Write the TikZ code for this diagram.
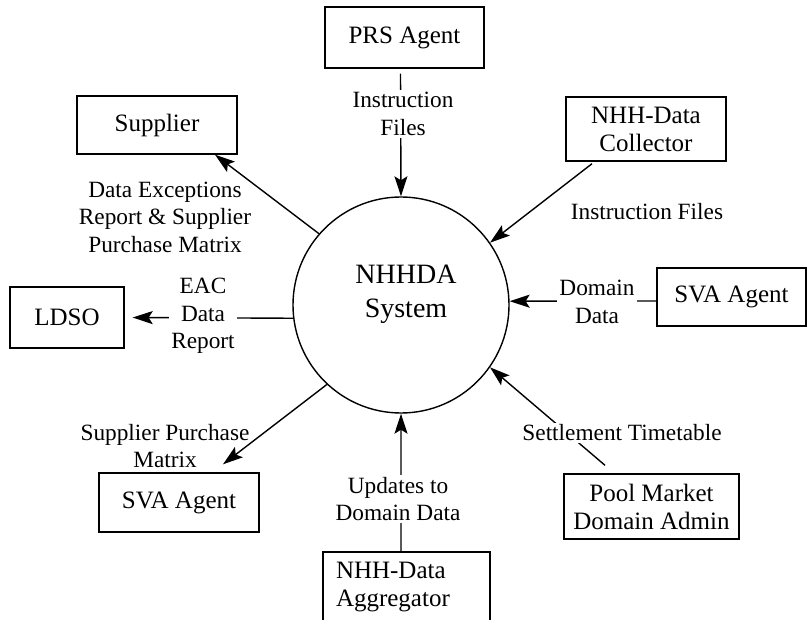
\documentclass[tikz,border=0pt]{standalone}
\usepackage{fontspec}
\setmainfont{Liberation Serif}
\usetikzlibrary{arrows.meta}

\tikzset{
  box/.style={draw, line width=1.4bp, align=center, inner sep=0pt,
    font=\fontsize{25bp}{28bp}\selectfont},
  flow/.style={align=center, inner sep=2bp,
    font=\fontsize{23.3bp}{27.5bp}\selectfont},
  gap/.style={flow, fill=white},
  link/.style={line width=1.4bp, -{Stealth[length=20bp,width=13bp,inset=4bp]}},
  plain/.style={line width=1.4bp}
}

\begin{document}
\begin{tikzpicture}[x=1bp,y=-1bp]
\useasboundingbox (0,0) rectangle (808,620);
\clip (0,0) rectangle (808,620);

\node[circle, draw, line width=1.4bp, minimum size=216bp, inner sep=0pt] (sys) at (401,305) {};
\node[align=center, font=\fontsize{28bp}{34bp}\selectfont] (systxt) at (406,294) {NHHDA\\System};

\node[box, minimum width=159bp, minimum height=61bp] (prs) at (404.5,37.5) {PRS Agent};
\node[box, minimum width=160bp, minimum height=58bp] (sup) at (157,125) {Supplier};
\node[box, minimum width=160bp, minimum height=64bp] (col) at (646,129) {NHH-Data\\Collector};
\node[box, minimum width=114bp, minimum height=61bp] (ldso) at (67,317.5) {LDSO};
\node[box, minimum width=149bp, minimum height=58bp] (svar) at (731.5,297) {SVA Agent};
\node[box, minimum width=160bp, minimum height=59bp] (sval) at (179,502.5) {SVA Agent};
\node[box, minimum width=175bp, minimum height=65bp] (pool) at (651.5,506.5) {Pool Market\\Domain Admin};
\node[box, align=left, text width=141bp, inner xsep=13bp, minimum height=70bp] (agg) at (406.5,587) {NHH-Data\\Aggregator};

% flows into and out of the system
\draw[link] ([xshift=-4bp,yshift=-5bp]prs.south) -- (sys.north);
\draw[link] ([xshift=-54bp,yshift=-2bp]col.south) -- (sys.35);
\draw[link] (sys.139) -- ([xshift=58bp]sup.south);
\draw[link] (sys.187) -- ([xshift=8bp]ldso.east);
\draw[link] ([yshift=-4bp]svar.west) -- (sys.2);
\draw[link] (sys.227) -- ([xshift=44bp,yshift=8bp]sval.north);
\draw[link] ([xshift=-46.5bp,yshift=8bp]pool.north) -- (sys.325);
\draw[link] ([xshift=-5.5bp]agg.north) -- (sys.south);

% labels
\node[gap] (lprs) at (403,114) {Instruction\\Files};
\node[flow] (lcol) at (647,212) {Instruction Files};
\node[flow] (lsup) at (165,217) {Data Exceptions\\Report \& Supplier\\Purchase Matrix};
\node[gap] (lldso) at (203,316) {EAC\\Data\\Report};
\node[gap] (lsvar) at (597,302) {Domain\\Data};
\node[flow] (lsval) at (165,446) {Supplier Purchase\\Matrix};
\node[gap] (lagg) at (398,499) {Updates to\\Domain Data};
\node[gap] (lpool) at (622,433) {Settlement Timetable};
\end{tikzpicture}
\end{document}
